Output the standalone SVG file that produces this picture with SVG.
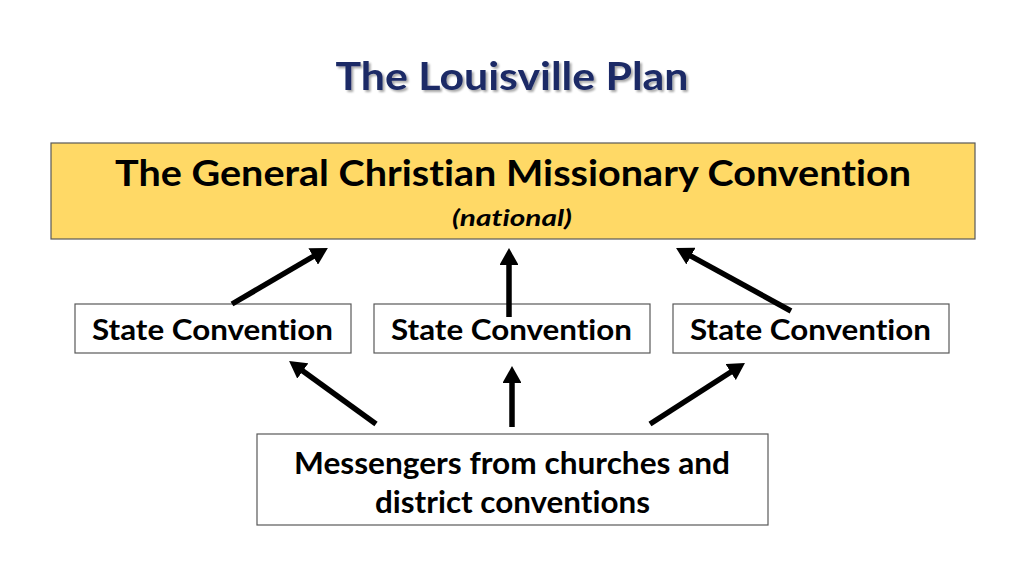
<svg xmlns="http://www.w3.org/2000/svg" width="1024" height="576" viewBox="0 0 1024 576">
<defs>
<marker id="ah" viewBox="0 0 17 19" refX="3" refY="9.5" markerWidth="3.1" markerHeight="3.45" orient="auto" markerUnits="strokeWidth">
<path d="M0,0 L17,9.5 L0,19 z" fill="#000"/>
</marker>
<filter id="sh" x="-10%" y="-20%" width="120%" height="150%">
<feGaussianBlur in="SourceAlpha" stdDeviation="1"/>
<feOffset dx="2" dy="2" result="b"/>
<feComponentTransfer><feFuncA type="linear" slope="0.35"/></feComponentTransfer>
<feMerge><feMergeNode/><feMergeNode in="SourceGraphic"/></feMerge>
</filter>
</defs>
<style>
text{font-family:Lato,"Open Sans","Liberation Sans",sans-serif;font-weight:bold;text-anchor:middle;fill:#000;font-variant-ligatures:none;font-feature-settings:"liga" 0,"clig" 0}
.box{fill:#fff;stroke:#595959;stroke-width:1.2}
.con line{stroke:#000;stroke-width:5.5;marker-end:url(#ah)}
</style>
<rect width="1024" height="576" fill="#fff"/>
<g id="title">
<text x="512" y="90" font-size="37.5" style="fill:#1b2a66" filter="url(#sh)" textLength="353" lengthAdjust="spacingAndGlyphs">The Louisville Plan</text>
</g>
<g id="general">
<rect x="51" y="143" width="924" height="96" fill="#ffd966" stroke="#595959" stroke-width="1.2"/>
<text x="513" y="186" font-size="36" textLength="796" lengthAdjust="spacingAndGlyphs">The General Christian Missionary Convention</text>
<text x="512" y="226" font-size="23" font-style="italic" textLength="120" lengthAdjust="spacingAndGlyphs">(national)</text>
</g>
<g id="state1">
<rect class="box" x="75" y="304" width="276" height="49"/>
<text x="212.5" y="339.5" font-size="28" textLength="241" lengthAdjust="spacingAndGlyphs">State Convention</text>
</g>
<g id="state2">
<rect class="box" x="374" y="304" width="276" height="49"/>
<text x="511.5" y="339.5" font-size="28" textLength="241" lengthAdjust="spacingAndGlyphs">State Convention</text>
</g>
<g id="state3">
<rect class="box" x="673" y="304" width="276" height="49"/>
<text x="810.5" y="339.5" font-size="28" textLength="241" lengthAdjust="spacingAndGlyphs">State Convention</text>
</g>
<g id="messengers">
<rect class="box" x="257" y="434" width="511" height="91"/>
<text x="512" y="474" font-size="30" textLength="436" lengthAdjust="spacingAndGlyphs">Messengers from churches and</text>
<text x="512.5" y="513" font-size="30" textLength="275" lengthAdjust="spacingAndGlyphs">district conventions</text>
</g>
<g id="connectors" class="con">
<line x1="232" y1="304" x2="315.8" y2="255"/>
<line x1="509" y1="317" x2="509" y2="262"/>
<line x1="791" y1="311" x2="688.3" y2="254.7"/>
<line x1="376" y1="424" x2="300.4" y2="369.2"/>
<line x1="512" y1="427" x2="512" y2="380"/>
<line x1="650" y1="424" x2="733.2" y2="370.5"/>
</g>
</svg>
